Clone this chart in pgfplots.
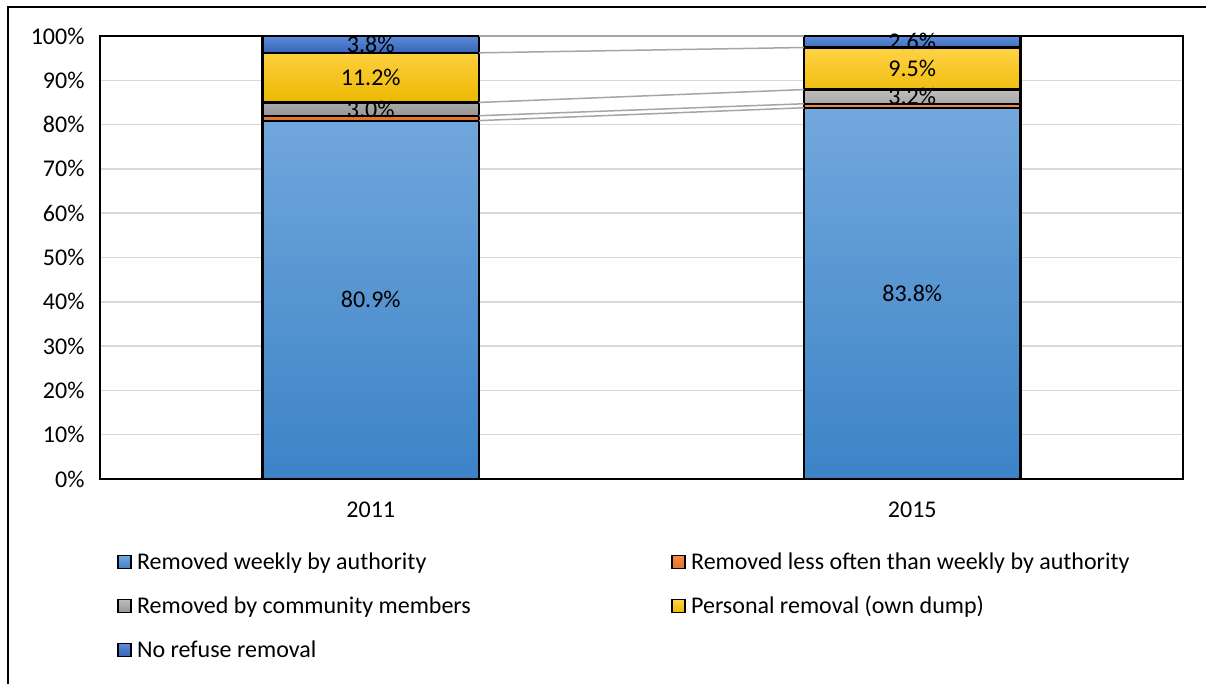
\documentclass[border=0pt]{standalone}
\usepackage{fontspec}
\setmainfont{Carlito}
\usepackage{pgfplots}
\usepackage{pgfplotstable}
\pgfplotsset{compat=1.18}
\definecolor{gridgray}{RGB}{217,217,217}
\definecolor{serigray}{RGB}{165,165,165}
\definecolor{wkTop}{RGB}{114,168,221}
\definecolor{wkBot}{RGB}{60,131,198}
\definecolor{orTop}{RGB}{244,140,70}
\definecolor{orBot}{RGB}{226,113,38}
\definecolor{gyTop}{RGB}{190,190,190}
\definecolor{gyBot}{RGB}{150,150,150}
\definecolor{ylTop}{RGB}{255,210,70}
\definecolor{ylBot}{RGB}{236,184,0}
\definecolor{dbTop}{RGB}{92,140,218}
\definecolor{dbBot}{RGB}{56,100,182}
\newcommand{\fsz}{\fontsize{24}{28}\selectfont}
\pgfplotstableread{
x weekly lessoften community personal none
0 80.9 1.1 3.0 11.2 3.8
1 83.8 0.9 3.2 9.5 2.6
}\refusedata
\pgfplotsset{barsty/.style={draw=black, line width=2.2pt}}
\begin{document}
\begin{tikzpicture}
\useasboundingbox (0pt,0pt) rectangle (1206pt,684pt);
\draw[line width=1.6pt] (8pt,-5pt) -- (8pt,677pt) -- (1212pt,677pt);
\begin{axis}[
  at={(100pt,205pt)}, anchor=south west,
  scale only axis, width=1083pt, height=443pt,
  ybar stacked, bar width=0.4,
  xmin=-0.5, xmax=1.5, ymin=0, ymax=100,
  xtick={0,1}, xticklabels={2011,2015},
  ytick={0,10,...,100},
  yticklabels={0\%,10\%,20\%,30\%,40\%,50\%,60\%,70\%,80\%,90\%,100\%},
  ymajorgrids, grid style={draw=gridgray, line width=1.5pt},
  axis line style={black, line width=1.8pt},
  major tick length=0pt,
  tick label style={font=\fsz},
  xticklabel style={yshift=-19pt},
  yticklabel style={xshift=-12pt},
  legend columns=2,
  legend cell align=left,
  legend image code/.code={\draw[#1,draw=black,line width=1.3pt] (0pt,-6.5pt) rectangle (13pt,6.5pt);},
  legend style={at={(0.0157,-0.1625)}, anchor=north west, draw=none, fill=none,
    font=\fsz, inner sep=0pt, nodes={inner sep=1.5pt}, row sep=22.5pt,
    /tikz/every odd column/.append style={column sep=4pt},
    /tikz/every even column/.append style={column sep=199pt}},
]
\addplot[barsty, top color=wkTop, bottom color=wkBot] table[x=x, y=weekly] {\refusedata};
\addlegendentry{Removed weekly by authority}
\addplot[barsty, top color=orTop, bottom color=orBot] table[x=x, y=lessoften] {\refusedata};
\addlegendentry{Removed less often than weekly by authority}
\addplot[barsty, top color=gyTop, bottom color=gyBot] table[x=x, y=community] {\refusedata};
\addlegendentry{Removed by community members}
\addplot[barsty, top color=ylTop, bottom color=ylBot] table[x=x, y=personal] {\refusedata};
\addlegendentry{Personal removal (own dump)}
\addplot[barsty, top color=dbTop, bottom color=dbBot] table[x=x, y=none] {\refusedata};
\addlegendentry{No refuse removal}
\end{axis}
\begin{axis}[
  at={(100pt,205pt)}, anchor=south west,
  scale only axis, width=1083pt, height=443pt,
  xmin=-0.5, xmax=1.5, ymin=0, ymax=100,
  hide axis, clip=false,
]
\addplot[serigray, line width=1.5pt, mark=none] coordinates {(0.2,80.9) (0.8,83.8)};
\addplot[serigray, line width=1.5pt, mark=none] coordinates {(0.2,82.0) (0.8,84.7)};
\addplot[serigray, line width=1.5pt, mark=none] coordinates {(0.2,85.0) (0.8,87.9)};
\addplot[serigray, line width=1.5pt, mark=none] coordinates {(0.2,96.2) (0.8,97.4)};
\addplot[serigray, line width=1.5pt, mark=none] coordinates {(0.2,100) (0.8,100)};
\addplot[draw=none, mark=none,
  nodes near coords, point meta=explicit symbolic,
  every node near coord/.style={anchor=center, font=\fsz, text=black}]
  coordinates {
  (0,40.45) [80.9\%]
  (0,83.5) [3.0\%]
  (0,90.6) [11.2\%]
  (0,98.1) [3.8\%]
  (1,41.9) [83.8\%]
  (1,86.3) [3.2\%]
  (1,92.65) [9.5\%]
  (1,98.7) [2.6\%]
  };
\end{axis}
\end{tikzpicture}
\end{document}
